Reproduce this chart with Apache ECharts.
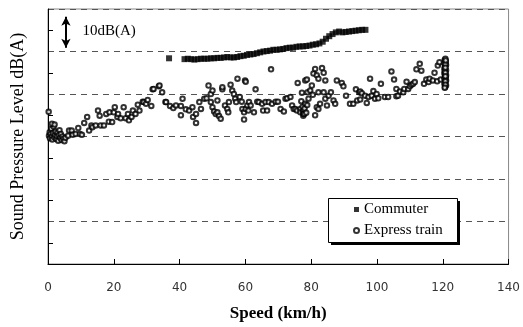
<!DOCTYPE html>
<html>
<head>
<meta charset="utf-8">
<script src="https://cdn.jsdelivr.net/npm/echarts@6/dist/echarts.min.js"></script>
<style>
  html, body { margin: 0; padding: 0; background: #fff; }
  #chart { width: 523px; height: 327px; }
</style>
</head>
<body>
<div id="chart"></div>
<script>
// x axis ticks (km/h)
var speedTicks = [0, 20, 40, 60, 80, 100, 120, 140];

// commuter: [speed, level dB(A)] (level scale has no labels in the source)
var commuter = [
  [36.8, 88.4],
  [41.5, 88.2], [42.5, 88.3], [43.5, 88.2], [44.5, 88.1], [45.5, 88.2], [46.5, 88.3],
  [47.5, 88.3], [48.5, 88.3], [49.5, 88.4], [50.5, 88.4], [51.5, 88.5], [52.5, 88.5],
  [53.5, 88.6], [54.5, 88.7], [55.5, 88.6], [56.5, 88.6], [57.5, 88.7], [58.5, 88.9],
  [59.5, 89.0], [60.5, 89.2], [61.5, 89.3], [62.5, 89.4], [63.5, 89.6], [64.5, 89.8],
  [65.5, 90.0], [66.5, 90.1], [67.5, 90.2], [68.5, 90.4], [69.5, 90.4], [70.5, 90.5],
  [71.5, 90.6], [72.5, 90.8], [73.5, 90.9], [74.5, 90.9], [75.5, 91.1], [76.5, 91.2],
  [77.5, 91.2], [78.5, 91.3], [79.5, 91.4], [80.5, 91.6], [81.5, 91.7], [82.5, 91.9],
  [83.5, 92.3], [84.5, 93.0], [85.5, 93.6], [86.5, 94.1], [87.5, 94.5], [88.5, 94.7],
  [89.5, 94.5], [90.5, 94.6], [91.5, 94.7], [92.5, 94.8], [93.5, 94.9], [94.5, 95.0],
  [95.5, 95.1], [96.5, 95.1]
];

// express train: [speed, level dB(A)]
var express = [
  [0.3, 70.2], [0.5, 71.0], [0.6, 69.6], [0.8, 70.6], [1.0, 71.8], [1.2, 70.0], [1.3, 69.3],
  [1.5, 70.8], [1.7, 72.3], [1.9, 69.8], [2.1, 70.4], [2.3, 71.2], [2.5, 69.4], [2.7, 70.1],
  [2.9, 70.9], [3.1, 69.0], [3.3, 70.3], [3.5, 71.5], [3.7, 69.7], [3.9, 70.6], [4.1, 69.2],
  [4.4, 70.0], [4.7, 69.5], [5.0, 68.9], [5.3, 69.7], [0.2, 75.8], [1.2, 73.0], [2.0, 72.8],
  [6.1, 70.2], [6.4, 71.4], [7.2, 71.4], [7.5, 70.4], [8.4, 70.6], [9.2, 72.0], [9.7, 70.6],
  [10.3, 70.4], [11.0, 73.2], [11.9, 74.6], [12.5, 71.4], [13.2, 72.6], [13.5, 72.2],
  [14.5, 72.6], [15.2, 76.1], [15.7, 74.9], [16.0, 72.6], [17.0, 72.6], [17.7, 75.3],
  [18.5, 73.5], [18.7, 75.7], [19.5, 73.4], [20.0, 75.7], [20.3, 76.9], [21.1, 74.6],
  [21.3, 75.3], [22.1, 74.3], [23.0, 76.9], [23.6, 74.3], [24.3, 75.3], [24.6, 73.8],
  [25.4, 74.6], [25.8, 76.1], [26.6, 75.3], [27.3, 77.5], [27.8, 76.1], [28.8, 78.2],
  [29.1, 78.1], [29.8, 77.7], [30.3, 78.6], [31.4, 77.2], [31.8, 81.1], [32.1, 81.2],
  [33.7, 81.8], [33.9, 82.0], [34.7, 80.4], [35.7, 78.1], [35.9, 78.1], [37.1, 77.2],
  [38.1, 76.7], [38.9, 77.3], [40.4, 75.0], [40.4, 77.2], [40.9, 78.9], [41.9, 76.4],
  [42.9, 76.1], [43.9, 76.9], [44.1, 74.6], [45.0, 73.2], [45.0, 75.3], [46.0, 78.1],
  [46.5, 76.5], [47.5, 78.9], [48.2, 79.0], [48.8, 82.0], [49.5, 80.0], [49.5, 78.1],
  [50.0, 80.8], [50.0, 76.9], [50.5, 75.9], [51.0, 75.3], [51.5, 78.5], [51.5, 75.7],
  [52.0, 74.8], [52.5, 74.2], [53.0, 81.1], [53.0, 81.6], [53.8, 77.3], [54.5, 76.5],
  [54.8, 75.7], [55.0, 78.1], [55.5, 82.2], [56.0, 80.8], [56.5, 80.0], [56.9, 78.9],
  [57.2, 78.1], [57.6, 83.6], [58.3, 79.3], [58.9, 78.2], [59.1, 76.5], [59.6, 75.7],
  [59.6, 74.0], [59.9, 83.2], [60.1, 82.9], [60.1, 76.5], [60.6, 77.3], [60.9, 76.1],
  [61.1, 78.1], [61.6, 77.3], [62.6, 75.7], [63.1, 81.1], [63.6, 78.2], [64.1, 78.1],
  [65.1, 77.7], [65.4, 76.1], [66.1, 78.1], [66.6, 76.1], [67.1, 78.1], [67.8, 85.8],
  [68.1, 77.7], [69.2, 78.2], [69.9, 78.2], [70.7, 76.5], [71.7, 75.9], [72.2, 78.9],
  [72.7, 79.0], [73.7, 79.3], [74.2, 77.3], [74.7, 76.5], [75.2, 76.5], [75.7, 76.1],
  [75.9, 82.6], [76.7, 76.5], [76.7, 75.7], [77.0, 78.3], [77.2, 80.3], [77.4, 77.0],
  [77.5, 75.7], [77.6, 74.9], [77.7, 76.1], [77.7, 75.3], [77.9, 75.3], [78.0, 76.6],
  [78.2, 77.7], [78.2, 83.2], [78.5, 75.6], [78.7, 83.4], [78.8, 77.4], [78.9, 80.4],
  [79.2, 78.9], [79.7, 80.8], [80.2, 82.0], [80.5, 79.8], [80.7, 84.8], [81.2, 85.9],
  [81.2, 75.0], [81.7, 84.4], [81.7, 76.9], [82.2, 83.6], [82.2, 80.4], [82.2, 76.5],
  [82.7, 77.7], [83.3, 86.1], [83.8, 85.0], [83.8, 80.4], [84.3, 83.2], [84.3, 78.9],
  [84.8, 77.3], [85.3, 79.6], [86.0, 80.4], [86.8, 78.5], [87.3, 77.7], [87.8, 83.2],
  [89.3, 82.6], [89.8, 81.8], [90.6, 79.6], [91.8, 77.7], [92.8, 77.7], [93.6, 81.1],
  [94.0, 78.5], [94.6, 80.4], [94.9, 78.7], [94.9, 80.6], [95.4, 80.2], [96.4, 79.6],
  [96.9, 77.9], [97.4, 79.3], [97.9, 83.6], [98.4, 79.6], [98.9, 80.7], [99.4, 78.9],
  [99.9, 80.0], [100.4, 79.0], [101.2, 82.4], [102.4, 79.3], [103.4, 79.3], [104.4, 85.3],
  [105.2, 83.4], [105.9, 81.2], [105.9, 79.5], [106.4, 79.6], [107.0, 80.6], [108.0, 80.4],
  [108.3, 81.2], [109.0, 82.9], [109.5, 81.2], [110.0, 81.8], [110.5, 82.2], [111.0, 82.4],
  [111.5, 82.8], [112.0, 85.8], [113.0, 87.1], [113.5, 85.5], [114.3, 82.4], [115.0, 83.4],
  [115.7, 82.8], [116.0, 83.6], [117.0, 83.2], [117.5, 85.0], [118.3, 83.0], [118.5, 86.7],
  [119.0, 87.5], [119.4, 83.4],
  [120.6, 88.0], [120.9, 87.6], [120.5, 87.2], [121.0, 86.8], [120.7, 86.4], [120.5, 86.0],
  [121.0, 85.6], [120.7, 85.2], [120.5, 84.8], [121.0, 84.4], [120.7, 84.0], [120.5, 83.6],
  [121.0, 83.2], [120.7, 82.8], [120.5, 82.4], [121.0, 82.0], [120.7, 81.6], [120.8, 88.3],
  [120.6, 85.4], [120.9, 83.8], [120.8, 87.0], [120.8, 86.2], [120.8, 85.0], [120.8, 84.2],
  [120.8, 83.0], [120.8, 82.2], [120.6, 81.5], [120.9, 87.9]
];

// 10 dB(A) scale arrow
var arrowSpeed = 5.45;
var arrowTop = 98.2;
var arrowBottom = 90.9;
var arrowText = '10dB(A)';

var chart = echarts.init(document.getElementById('chart'));

var serif = 'Liberation Serif';

// legend frame with hard drop shadow, drawn behind the legend items
var box = { x: 328, y: 198, w: 129, h: 44 };

chart.setOption({
  animation: false,
  backgroundColor: '#fff',
  grid: {
    left: 48, right: 12, top: 9, bottom: 62,
    show: true, borderColor: '#888', borderWidth: 1
  },
  graphic: [
    {
      type: 'rect', z: 3, silent: true,
      shape: { x: box.x + 3, y: box.y + 3, width: box.w, height: box.h },
      style: { fill: '#000' }
    },
    {
      type: 'rect', z: 3, silent: true,
      shape: { x: box.x + 0.5, y: box.y + 0.5, width: box.w, height: box.h },
      style: { fill: '#fff', stroke: '#000', lineWidth: 1 }
    }
  ],
  legend: {
    z: 5,
    orient: 'vertical',
    left: box.x, top: box.y,
    padding: [4, 15, 4, 25],
    itemGap: 6,
    itemWidth: 5, itemHeight: 5,
    textStyle: { fontFamily: serif, fontSize: 15, color: '#000' },
    data: [
      { name: 'Commuter', icon: 'rect' },
      { name: 'Express train', icon: 'emptyCircle' }
    ]
  },
  xAxis: {
    type: 'value',
    min: speedTicks[0],
    max: speedTicks[speedTicks.length - 1],
    interval: 20,
    name: 'Speed (km/h)',
    nameLocation: 'middle',
    nameGap: 41,
    nameTextStyle: { fontFamily: serif, fontWeight: 'bold', fontSize: 17, color: '#000' },
    axisLine: { lineStyle: { color: '#000', width: 1 } },
    axisTick: { inside: true, length: 5, lineStyle: { color: '#000' } },
    axisLabel: { margin: 18, fontFamily: 'DejaVu Sans', fontSize: 12, color: '#333' },
    splitLine: { show: false }
  },
  yAxis: {
    type: 'value',
    min: 40, max: 100, interval: 10,
    name: 'Sound Pressure Level dB(A)',
    nameLocation: 'middle',
    nameGap: 21,
    nameTextStyle: { fontFamily: serif, fontSize: 18, color: '#000' },
    axisLine: { lineStyle: { color: '#000', width: 1 } },
    axisTick: { show: false, inside: true },
    minorTick: { show: true, splitNumber: 2, length: 5, lineStyle: { color: '#000' } },
    axisLabel: { show: false },
    splitLine: { lineStyle: { color: '#555', type: [6, 5], width: 1 } }
  },
  series: [
    {
      name: 'Express train',
      type: 'scatter',
      symbol: 'emptyCircle',
      symbolSize: 4.5,
      itemStyle: { color: '#000', borderColor: '#000', borderWidth: 0.7 },
      data: express,
      markLine: {
        silent: true,
        symbol: ['arrow', 'arrow'],
        symbolSize: [7, 9],
        lineStyle: { color: '#000', width: 2, type: 'solid' },
        label: { show: false },
        data: [[{ coord: [arrowSpeed, arrowTop] }, { coord: [arrowSpeed, arrowBottom] }]]
      },
      markPoint: {
        silent: true,
        symbol: 'circle',
        symbolSize: 1,
        itemStyle: { color: 'rgba(0,0,0,0)' },
        label: {
          show: true, position: 'inside', formatter: arrowText,
          fontFamily: serif, fontSize: 15, color: '#000'
        },
        data: [{ coord: [18.6, 94.8] }]
      }
    },
    {
      name: 'Commuter',
      type: 'scatter',
      symbol: 'rect',
      symbolSize: 6,
      itemStyle: { color: '#000' },
      data: commuter
    }
  ]
});
</script>
</body>
</html>
